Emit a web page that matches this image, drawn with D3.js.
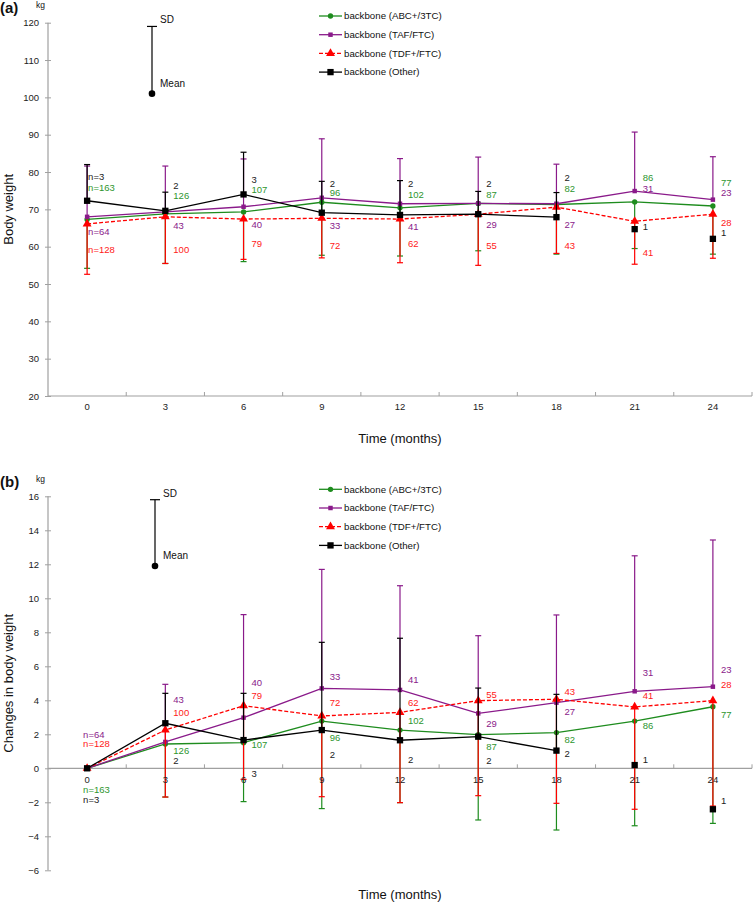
<!DOCTYPE html>
<html><head><meta charset="utf-8">
<script src="https://cdn.jsdelivr.net/npm/d3@7"></script>
<style>body{margin:0;background:#fff} text{font-family:Arial,"Liberation Sans",sans-serif}</style>
</head><body><svg id="c" width="753" height="904"></svg>
<script>
// ---------- data ----------
const months = [0, 3, 6, 9, 12, 15, 18, 21, 24];
const seriesNames = ["backbone (ABC+/3TC)", "backbone (TAF/FTC)", "backbone (TDF+/FTC)", "backbone (Other)"];
const yTicksA = [20, 30, 40, 50, 60, 70, 80, 90, 100, 110, 120];
const yTicksB = [-6, -4, -2, 0, 2, 4, 6, 8, 10, 12, 14, 16];

// numbers of patients (same in both panels)
const nABC = [163, 126, 107, 96, 102, 87, 82, 86, 77];
const nTAF = [64, 43, 40, 33, 41, 29, 27, 31, 23];
const nTDF = [128, 100, 79, 72, 62, 55, 43, 41, 28];
const nOther = [3, 2, 3, 2, 2, 2, 2, 1, 1];

// panel (a) body weight, mean and SD end (kg)
const aABC = [67.3, 68.8, 69.3, 71.9, 70.4, 71.6, 71.3, 72.0, 70.9];
const aABCsd = [54.2, 55.5, 56.0, 57.7, 57.5, 58.9, 58.0, 59.5, 58.0];
const aTAF = [68.0, 69.3, 70.7, 73.1, 71.5, 71.6, 71.5, 74.9, 72.6];
const aTAFsd = [81.6, 81.6, 83.5, 88.9, 83.6, 84.0, 82.1, 90.7, 84.1];
const aTDF = [66.1, 68.0, 67.4, 67.6, 67.4, 68.7, 70.6, 66.8, 68.7];
const aTDFsd = [52.6, 55.5, 56.6, 57.0, 55.7, 55.0, 58.2, 55.3, 56.9];
const aOther = [72.3, 69.6, 74.0, 69.1, 68.5, 68.7, 67.9, 64.7, 62.1];
const aOthersd = [82.0, 74.6, 85.3, 77.5, 77.7, 74.8, 74.5, null, null];
// panel (a) n-label anchor values (kg)
const aABClab = [75.9, 73.7, 75.2, 74.4, 73.9, 73.9, 75.5, 78.4, 77.1];
const aTAFlab = [63.9, 65.6, 65.8, 65.6, 65.3, 65.8, 65.9, 75.5, 74.4];
const aTDFlab = [59.2, 59.3, 60.8, 60.4, 60.7, 60.4, 60.2, 58.4, 66.4];
const aOtherlab = [78.7, 76.3, 77.9, 77.0, 77.0, 76.8, 78.4, 65.4, 63.7];
const aDemo = {mean: 101, sd: 119};

// panel (b) change in body weight, mean and SD end (kg)
const bABC = [0, 1.43, 1.51, 2.78, 2.25, 1.98, 2.10, 2.78, 3.62];
const bABCsd = [null, -1.69, -1.96, -2.37, -2.02, -3.04, -3.63, -3.38, -3.24];
const bTAF = [0, 1.55, 2.98, 4.70, 4.61, 3.23, 3.86, 4.53, 4.80];
const bTAFsd = [null, 4.94, 9.04, 11.7, 10.74, 7.80, 9.02, 12.5, 13.43];
const bTDF = [0, 2.25, 3.68, 3.08, 3.29, 3.98, 4.06, 3.61, 3.98];
const bTDFsd = [null, -1.69, -0.65, -1.67, -2.02, -1.61, -2.06, -2.41, -2.22];
const bOther = [0, 2.65, 1.66, 2.25, 1.65, 1.86, 1.04, 0.19, -2.41];
const bOthersd = [null, 4.41, 4.41, 7.41, 7.65, 4.72, 4.35, null, null];
const bABClab = [-1.26, 1.04, 1.37, 1.80, 2.80, 1.27, 1.71, 2.51, 3.15];
const bTAFlab = [2.0, 4.02, 5.04, 5.39, 5.19, 2.65, 3.33, 5.62, 5.78];
const bTDFlab = [1.43, 3.29, 4.27, 3.86, 3.88, 4.33, 4.49, 4.27, 4.90];
const bOtherlab = [-1.86, 0.45, -0.34, 0.78, 0.53, 0.45, 0.84, 0.53, -1.91];
const bDemo = {mean: 11.9, sd: 15.8};

// ---------- drawing ----------
const colors = ["#1e8c1e", "#8a1a8a", "#ff0000", "#000000"];
const textColors = ["#2e962e", "#8a1a8a", "#ff2020", "#222222"];
const symbols = [d3.symbolCircle, d3.symbolSquare, d3.symbolTriangle, d3.symbolSquare];
const symSizes = [22, 20, 34, 40];
const dashes = [null, null, "4,2", null];
const axisCol = "#a0a0a0";

const svg = d3.select("#c");
const x = d3.scaleBand().domain(months).range([48, 752]).paddingInner(0).paddingOuter(0);
const cx = m => x(m) + x.bandwidth() / 2;

function panel(cfg) {
  const y = d3.scaleLinear().domain(cfg.domain).range(cfg.range);
  const g = svg.append("g");
  // y axis
  g.append("line").attr("x1", 48).attr("x2", 48).attr("y1", y(cfg.domain[0])).attr("y2", y(cfg.domain[1]))
    .attr("stroke", axisCol).attr("stroke-width", 1.2);
  const ya = g.append("g").attr("transform", "translate(48,0)")
    .call(d3.axisLeft(y).tickValues(cfg.yTicks).tickSize(3).tickPadding(6));
  ya.select(".domain").remove();
  ya.selectAll(".tick line").attr("stroke", axisCol).attr("x2", 3).attr("x1", -3);
  ya.selectAll(".tick text").attr("font-size", 9.5).attr("fill", "#222").attr("font-family", "Arial, 'Liberation Sans'");
  // x axis line + boundary ticks
  const y0 = y(cfg.xAxisAt);
  g.append("line").attr("x1", 48).attr("x2", 752).attr("y1", y0).attr("y2", y0).attr("stroke", axisCol).attr("stroke-width", 1.2);
  months.forEach(m => {
    g.append("line").attr("x1", x(m) + x.bandwidth()).attr("x2", x(m) + x.bandwidth())
      .attr("y1", y0).attr("y2", y0 - 4).attr("stroke", axisCol);
  });

  // series
  cfg.series.forEach((s, i) => {
    const pts = months.map((m, k) => ({m, v: s.mean[k], sd: s.sd[k], n: s.n[k], lab: s.lab[k]}));
    // single-patient points are shown unconnected
    const line = d3.line().defined(d => d.n > 1).x(d => cx(d.m)).y(d => y(d.v));
    g.append("path").attr("d", line(pts)).attr("fill", "none").attr("stroke", colors[i])
      .attr("stroke-width", 1.3).attr("stroke-dasharray", dashes[i]);
    pts.filter(d => d.sd !== null).forEach(d => {
      g.append("line").attr("x1", cx(d.m)).attr("x2", cx(d.m)).attr("y1", y(d.v)).attr("y2", y(d.sd))
        .attr("stroke", colors[i]).attr("stroke-width", 1.2);
      g.append("line").attr("x1", cx(d.m) - 3).attr("x2", cx(d.m) + 3).attr("y1", y(d.sd)).attr("y2", y(d.sd))
        .attr("stroke", colors[i]).attr("stroke-width", 1.2);
    });
    g.selectAll(null).data(pts).enter().append("path")
      .attr("d", d3.symbol().type(symbols[i]).size(symSizes[i]))
      .attr("transform", d => `translate(${cx(d.m)},${y(d.v)})`).attr("fill", colors[i]);
    g.selectAll(null).data(pts).enter().append("text")
      .attr("x", d => d.m === 0 ? cx(d.m) + cfg.firstDx : cx(d.m) + 8)
      .attr("y", d => y(d.lab)).attr("dy", "0.35em")
      .attr("font-size", 9.5).attr("fill", textColors[i])
      .text(d => d.m === 0 ? "n=" + d.n : d.n);
  });

  // x tick labels (drawn on top)
  months.forEach(m => {
    g.append("text").attr("x", cx(m)).attr("y", y0 + cfg.tickLabDy).attr("dy", "0.35em")
      .attr("text-anchor", "middle").attr("font-size", 9.5).attr("fill", "#222").text(m);
  });

  // titles
  const midY = (cfg.range[0] + cfg.range[1]) / 2;
  g.append("text").attr("transform", `translate(13,${midY}) rotate(-90)`).attr("text-anchor", "middle")
    .attr("font-size", 13).attr("fill", "#111").text(cfg.yTitle);
  g.append("text").attr("x", 400).attr("y", cfg.xTitleY).attr("dy", "0.35em").attr("text-anchor", "middle")
    .attr("font-size", 13).attr("fill", "#111").text("Time (months)");
  g.append("text").attr("x", 0).attr("y", cfg.tagY).attr("font-size", 15).attr("font-weight", "bold")
    .attr("fill", "#111").text(cfg.tag);
  g.append("text").attr("x", 36).attr("y", cfg.tagY - 5).attr("font-size", 8.5).attr("fill", "#111").text("kg");

  // SD / Mean explanation
  const dx = cfg.demoX;
  g.append("line").attr("x1", dx).attr("x2", dx).attr("y1", y(cfg.demo.mean)).attr("y2", y(cfg.demo.sd))
    .attr("stroke", "#000").attr("stroke-width", 1.2);
  g.append("line").attr("x1", dx - 5).attr("x2", dx + 5).attr("y1", y(cfg.demo.sd)).attr("y2", y(cfg.demo.sd))
    .attr("stroke", "#000").attr("stroke-width", 1.2);
  g.append("circle").attr("cx", dx).attr("cy", y(cfg.demo.mean)).attr("r", 3.3).attr("fill", "#000");
  g.append("text").attr("x", dx + 8).attr("y", y(cfg.demo.sd) - 3).attr("font-size", 10).attr("fill", "#111").text("SD");
  g.append("text").attr("x", dx + 8).attr("y", y(cfg.demo.mean) - 7).attr("font-size", 10).attr("fill", "#111").text("Mean");

  // legend
  seriesNames.forEach((name, i) => {
    const ly = cfg.legendY + i * 18.7;
    g.append("line").attr("x1", 319).attr("x2", 342).attr("y1", ly).attr("y2", ly)
      .attr("stroke", colors[i]).attr("stroke-width", 1.3).attr("stroke-dasharray", dashes[i]);
    g.append("path").attr("d", d3.symbol().type(symbols[i]).size(symSizes[i])())
      .attr("transform", `translate(330.5,${ly})`).attr("fill", colors[i]);
    g.append("text").attr("x", 344).attr("y", ly).attr("dy", "0.35em").attr("font-size", 9.7)
      .attr("fill", "#111").text(name);
  });
}

panel({
  domain: [20, 120], range: [396, 22.7], yTicks: yTicksA, xAxisAt: 20, tickLabDy: 11,
  series: [
    {mean: aABC, sd: aABCsd, n: nABC, lab: aABClab},
    {mean: aTAF, sd: aTAFsd, n: nTAF, lab: aTAFlab},
    {mean: aTDF, sd: aTDFsd, n: nTDF, lab: aTDFlab},
    {mean: aOther, sd: aOthersd, n: nOther, lab: aOtherlab}
  ],
  firstDx: 1, yTitle: "Body weight", xTitleY: 438, tag: "(a)", tagY: 13,
  demo: aDemo, demoX: 152, legendY: 16
});

panel({
  domain: [-6, 16], range: [870.3, 496.3], yTicks: yTicksB, xAxisAt: 0, tickLabDy: 11.5,
  series: [
    {mean: bABC, sd: bABCsd, n: nABC, lab: bABClab},
    {mean: bTAF, sd: bTAFsd, n: nTAF, lab: bTAFlab},
    {mean: bTDF, sd: bTDFsd, n: nTDF, lab: bTDFlab},
    {mean: bOther, sd: bOthersd, n: nOther, lab: bOtherlab}
  ],
  firstDx: -4, yTitle: "Changes in body weight", xTitleY: 894, tag: "(b)", tagY: 487,
  demo: bDemo, demoX: 155, legendY: 489.3
});
</script>
</body></html>
